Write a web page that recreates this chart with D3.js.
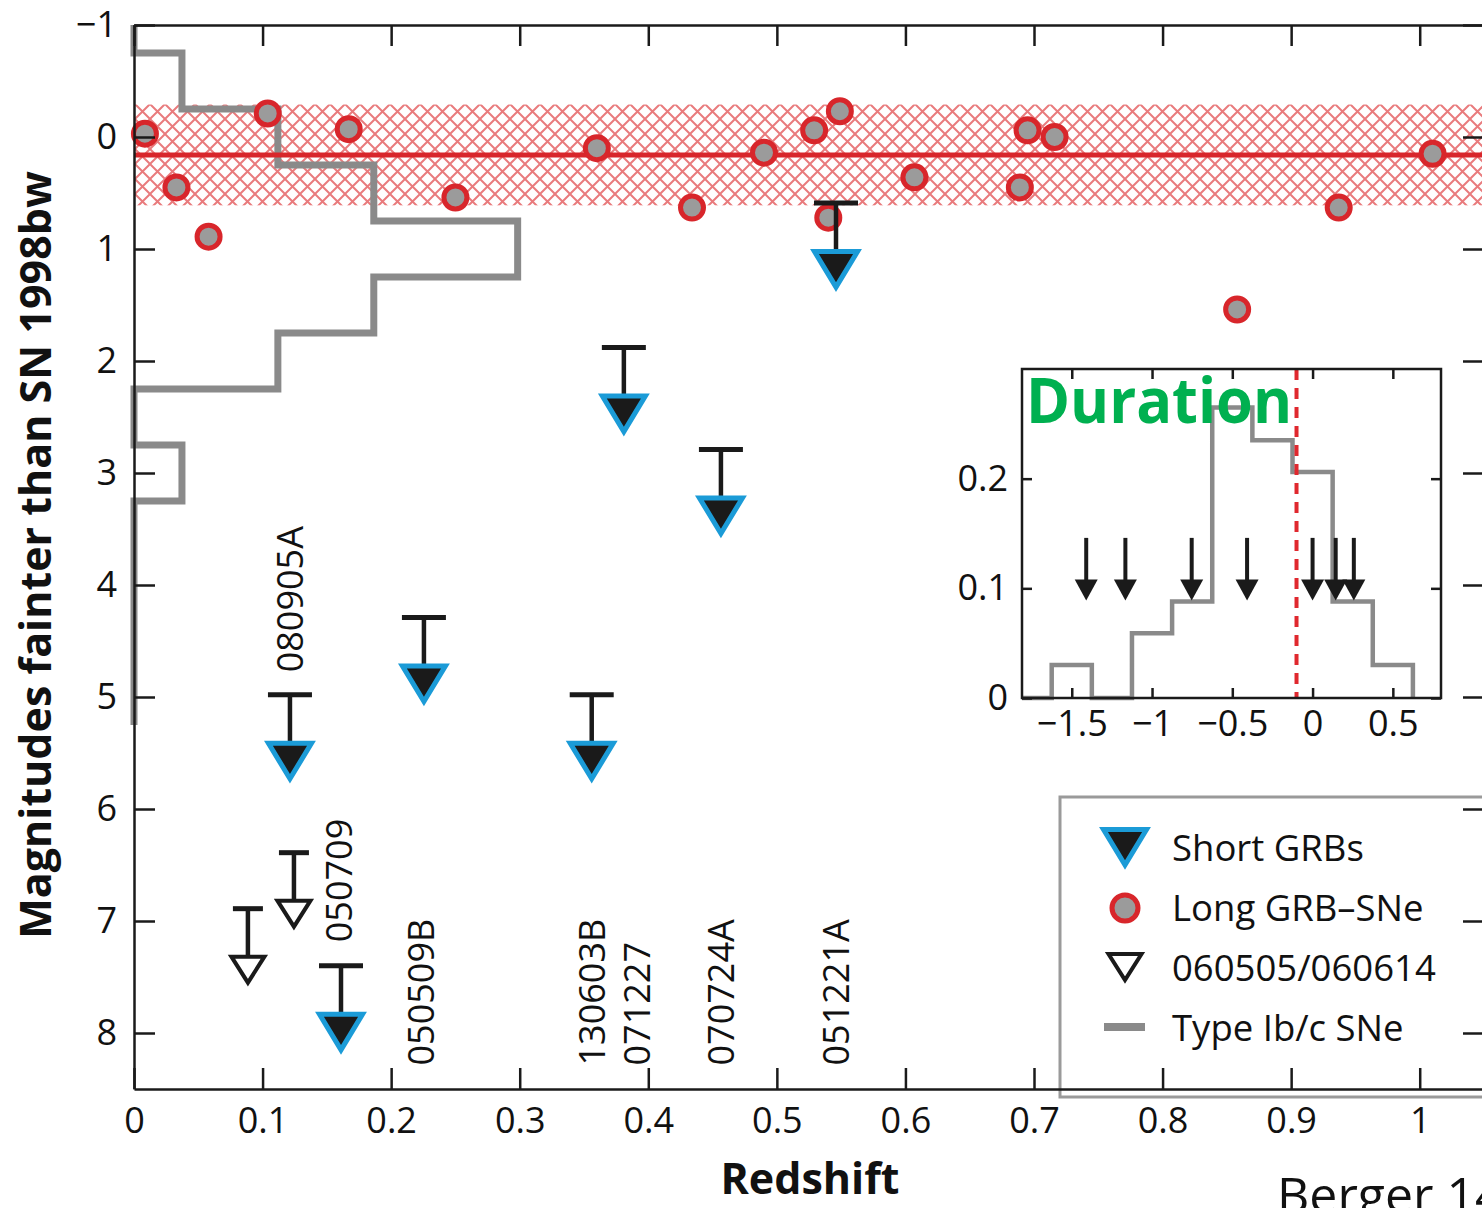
<!DOCTYPE html>
<html><head><meta charset="utf-8">
<script src="https://cdn.jsdelivr.net/npm/d3@7"></script>
<style>body{margin:0;background:#fff} svg{display:block}</style>
</head><body><svg id="c" width="1482" height="1208"></svg>
<script>
// ---------- data ----------
const longZ   = [0.0085,0.033,0.058,0.104,0.167,0.25,0.36,0.434,0.49,0.529,0.549,0.54,0.607,0.689,0.695,0.716,0.858,0.937,1.01];
const longMag = [-0.03,0.45,0.89,-0.21,-0.07,0.54,0.10,0.63,0.14,-0.06,-0.23,0.72,0.36,0.45,-0.06,0.0,1.54,0.63,0.15];

const shortNames = ["080905A","050509B","130603B","071227","070724A","051221A","050709"];
const shortZ     = [0.1213,0.2255,0.356,0.381,0.4565,0.546,0.161];
const shortMag   = [4.98,4.29,4.98,1.88,2.79,0.59,7.40];
const labelZ     = [0.1213,0.2235,0.356,0.391,0.4565,0.546,0.1592];
const labelMag   = [4.78,8.29,8.29,8.29,8.29,8.29,7.19];

const openZ   = [0.0886,0.1244];
const openMag = [6.89,6.39];

const bandCenter = 0.16, bandHalf = 0.45;

const snEdges  = [-1.25,-0.75,-0.25,0.25,0.75,1.25,1.75,2.25,2.75,3.25,5.25];
const snCounts = [0,1,3,5,8,5,3,0,1,0];
const snUnit   = 0.0373;   // redshift units per SN in the side histogram

const xTicks = [0,0.1,0.2,0.3,0.4,0.5,0.6,0.7,0.8,0.9,1];
const yTicks = [-1,0,1,2,3,4,5,6,7,8];

// inset: duration distribution
const inEdges = [-1.625,-1.375,-1.125,-0.875,-0.625,-0.375,-0.125,0.125,0.375,0.625];
const inFrac  = [0.03,0,0.059,0.088,0.265,0.235,0.206,0.088,0.03];
const inArrowX = [-1.41,-1.166,-0.753,-0.408,0.0,0.144,0.257];
const inArrowTop = 0.146, inArrowTip = 0.089;
const inDivide = -0.10;
const inXTicks = [-1.5,-1,-0.5,0,0.5];
const inYTicks = [0,0.1,0.2];

const legendLabels = ["Short GRBs","Long GRB\u2013SNe","060505/060614","Type Ib/c SNe"];

// ---------- style ----------
const FONT = "'Open Sans', 'DejaVu Sans', sans-serif";
const RED = "#d8262b", HATCH = "#e97b7d", GRAY = "#8a8a8a", FILLG = "#9b9b9b", BLUE = "#1b9bd7";

const svg = d3.select("#c");
const x = d3.scaleLinear().domain([0,1.05]).range([134,1484]);
const y = d3.scaleLinear().domain([-1,8.5]).range([25,1089]);
const fmt = v => (v<0 ? "\u2212" : "") + Math.abs(v);

const defs = svg.append("defs");
const pat = defs.append("pattern").attr("id","hatch").attr("width",15).attr("height",15)
  .attr("patternUnits","userSpaceOnUse").attr("y",104);
pat.append("path").attr("d","M-1,1 l2,-2 M0,15 l15,-15 M14,16 l2,-2 M-1,14 l2,2 M0,0 l15,15 M14,-1 l2,2")
  .attr("stroke",HATCH).attr("stroke-width",2).attr("fill","none");
defs.append("clipPath").attr("id","plot").append("rect")
  .attr("x",120).attr("y",y(-1)).attr("width",1400).attr("height",y(8.5)-y(-1));

const plot = svg.append("g").attr("clip-path","url(#plot)");

// hatched band
plot.append("rect").attr("x",x(0)).attr("width",x(1.05)-x(0))
  .attr("y",y(bandCenter-bandHalf)).attr("height",y(bandCenter+bandHalf)-y(bandCenter-bandHalf))
  .attr("fill","url(#hatch)");

// side histogram of Type Ib/c SNe
const snPts = [];
snCounts.forEach((c,i)=>{ snPts.push([c*snUnit, snEdges[i]], [c*snUnit, snEdges[i+1]]); });
plot.append("path").attr("d", d3.line().x(d=>x(d[0])).y(d=>y(d[1]))(snPts))
  .attr("fill","none").attr("stroke",GRAY).attr("stroke-width",7).attr("stroke-linejoin","miter");

// mean line
plot.append("line").attr("x1",x(0)).attr("x2",x(1.05)).attr("y1",y(bandCenter)).attr("y2",y(bandCenter))
  .attr("stroke",RED).attr("stroke-width",5);

// long GRB-SNe
plot.selectAll("circle.l").data(longZ).join("circle").attr("class","l")
  .attr("cx",d=>x(d)).attr("cy",(d,i)=>y(longMag[i])).attr("r",11.5)
  .attr("fill",FILLG).attr("stroke",RED).attr("stroke-width",5);

// short-GRB limit glyphs
function shortGlyph(g, withBar){
  if (withBar) {
    g.append("line").attr("x1",-22).attr("x2",22).attr("y1",0).attr("y2",0).attr("stroke","#1a1a1a").attr("stroke-width",5);
    g.append("line").attr("x1",0).attr("x2",0).attr("y1",0).attr("y2",60).attr("stroke","#1a1a1a").attr("stroke-width",4.5);
  }
  g.append("path").attr("d","M-21.5,48.5 L21.5,48.5 L0,84 Z").attr("fill","#1a1a1a")
    .attr("stroke",BLUE).attr("stroke-width",5).attr("stroke-linejoin","miter");
}
function openGlyph(g, withBar){
  if (withBar) {
    g.append("line").attr("x1",-15).attr("x2",15).attr("y1",0).attr("y2",0).attr("stroke","#1a1a1a").attr("stroke-width",5);
    g.append("line").attr("x1",0).attr("x2",0).attr("y1",0).attr("y2",48).attr("stroke","#1a1a1a").attr("stroke-width",4.5);
  }
  g.append("path").attr("d","M-16.5,48 L16.5,48 L0,74 Z").attr("fill","#fff")
    .attr("stroke","#1a1a1a").attr("stroke-width",4).attr("stroke-linejoin","miter");
}
shortZ.forEach((z,i)=>{ shortGlyph(svg.append("g").attr("transform",`translate(${x(z)},${y(shortMag[i])})`), true); });
openZ.forEach((z,i)=>{ openGlyph(svg.append("g").attr("transform",`translate(${x(z)},${y(openMag[i])})`), true); });

// rotated labels
shortNames.forEach((n,i)=>{
  svg.append("text").attr("transform",`translate(${x(labelZ[i])},${y(labelMag[i])}) rotate(-90)`)
    .attr("dy","0.36em").attr("font-family",FONT).attr("font-size",36).attr("fill","#111").text(n);
});

// legend
const lg = svg.append("g");
lg.append("rect").attr("x",1060).attr("y",797).attr("width",440).attr("height",300)
  .attr("fill","#fff").attr("stroke","#9a9a9a").attr("stroke-width",3);
const rows = [848,908,968,1028];
shortGlyph(lg.append("g").attr("transform",`translate(1125,${rows[0]-67})`), false);
lg.append("circle").attr("cx",1125).attr("cy",rows[1]).attr("r",13).attr("fill",FILLG).attr("stroke",RED).attr("stroke-width",5);
openGlyph(lg.append("g").attr("transform",`translate(1125,${rows[2]-62})`), false);
lg.append("line").attr("x1",1104).attr("x2",1145).attr("y1",rows[3]-1).attr("y2",rows[3]-1).attr("stroke",GRAY).attr("stroke-width",8);
legendLabels.forEach((t,i)=>{
  lg.append("text").attr("x",1172).attr("y",rows[i]).attr("dy","0.36em")
    .attr("font-family",FONT).attr("font-size",36.5).attr("fill","#111").text(t);
});

// axes
function styleAxis(g){
  g.selectAll("path.domain").attr("stroke","#1a1a1a").attr("stroke-width",2.5);
  g.selectAll(".tick line").attr("stroke","#1a1a1a").attr("stroke-width",2.5);
  g.selectAll("text").attr("font-family",FONT).attr("font-size",36).attr("fill","#111");
}
svg.append("g").attr("transform",`translate(0,${y(8.5)})`)
  .call(d3.axisBottom(x).tickValues(xTicks).tickFormat(fmt).tickSizeInner(-21).tickSizeOuter(0).tickPadding(18))
  .call(styleAxis);
svg.append("g").attr("transform",`translate(0,${y(-1)})`)
  .call(d3.axisTop(x).tickValues(xTicks).tickFormat("").tickSizeInner(-21).tickSizeOuter(0))
  .call(styleAxis);
svg.append("g").attr("transform",`translate(${x(0)},0)`)
  .call(d3.axisLeft(y).tickValues(yTicks).tickFormat(fmt).tickSizeInner(-21).tickSizeOuter(0).tickPadding(17))
  .call(styleAxis);
svg.append("g").attr("transform",`translate(${x(1.05)},0)`)
  .call(d3.axisRight(y).tickValues(yTicks).tickFormat("").tickSizeInner(-21).tickSizeOuter(0))
  .call(styleAxis);

// axis titles
svg.append("text").attr("x",810).attr("y",1194).attr("text-anchor","middle")
  .attr("font-family",FONT).attr("font-weight","bold").attr("font-size",43).attr("fill","#111").text("Redshift");
svg.append("text").attr("transform","translate(51,555) rotate(-90)").attr("text-anchor","middle")
  .attr("font-family",FONT).attr("font-weight","bold").attr("font-size",43).attr("fill","#111")
  .text("Magnitudes fainter than SN 1998bw");

// ---------- inset ----------
const ix = d3.scaleLinear().domain([-1.81,0.80]).range([1022,1441]);
const iy = d3.scaleLinear().domain([0,0.30]).range([698,369]);
const ins = svg.append("g");
ins.append("rect").attr("x",ix(-1.81)).attr("y",iy(0.30)).attr("width",ix(0.80)-ix(-1.81)).attr("height",iy(0)-iy(0.30))
  .attr("fill","#fff");
const inPts = [[-1.81,0],[inEdges[0],0]];
inFrac.forEach((f,i)=>{ inPts.push([inEdges[i],f],[inEdges[i+1],f]); });
inPts.push([inEdges[inEdges.length-1],0]);
ins.append("path").attr("d", d3.line().x(d=>ix(d[0])).y(d=>iy(d[1]))(inPts))
  .attr("fill","none").attr("stroke",GRAY).attr("stroke-width",4.5);
ins.append("line").attr("x1",ix(inDivide)).attr("x2",ix(inDivide)).attr("y1",iy(0.30)).attr("y2",iy(0))
  .attr("stroke","#e0282e").attr("stroke-width",4).attr("stroke-dasharray","11,8");
inArrowX.forEach(v=>{
  const cx = ix(v), t = iy(inArrowTop), b = iy(inArrowTip);
  ins.append("line").attr("x1",cx).attr("x2",cx).attr("y1",t).attr("y2",b-12).attr("stroke","#1a1a1a").attr("stroke-width",4);
  ins.append("path").attr("d",`M${cx-11.5},${b-21} L${cx+11.5},${b-21} L${cx},${b} Z`).attr("fill","#1a1a1a");
});
function styleIn(g){
  g.selectAll("path.domain").remove();
  g.selectAll(".tick line").attr("stroke","#1a1a1a").attr("stroke-width",2.5);
  g.selectAll("text").attr("font-family",FONT).attr("font-size",36).attr("fill","#111");
}
ins.append("g").attr("transform",`translate(0,${iy(0)})`)
  .call(d3.axisBottom(ix).tickValues(inXTicks).tickFormat(fmt).tickSizeInner(-10).tickSizeOuter(0).tickPadding(12)).call(styleIn);
ins.append("g").attr("transform",`translate(0,${iy(0.30)})`)
  .call(d3.axisTop(ix).tickValues(inXTicks).tickFormat("").tickSizeInner(-10).tickSizeOuter(0)).call(styleIn);
ins.append("g").attr("transform",`translate(${ix(-1.81)},0)`)
  .call(d3.axisLeft(iy).tickValues(inYTicks).tickFormat(d=>d===0?"0":d).tickSizeInner(-10).tickSizeOuter(0).tickPadding(14)).call(styleIn);
ins.append("g").attr("transform",`translate(${ix(0.80)},0)`)
  .call(d3.axisRight(iy).tickValues(inYTicks).tickFormat("").tickSizeInner(-10).tickSizeOuter(0)).call(styleIn);
ins.append("rect").attr("x",ix(-1.81)).attr("y",iy(0.30)).attr("width",ix(0.80)-ix(-1.81)).attr("height",iy(0)-iy(0.30))
  .attr("fill","none").attr("stroke","#1a1a1a").attr("stroke-width",2.5);
ins.append("text").attr("x",1026).attr("y",423).attr("font-family",FONT).attr("font-weight","bold")
  .attr("font-size",62).attr("fill","#00b050").attr("textLength",266).attr("lengthAdjust","spacingAndGlyphs").text("Duration");

// credit (cut off at the bottom-right edge, as in the reference)
svg.append("text").attr("x",1277).attr("y",1213).attr("font-family",FONT).attr("font-size",50).attr("fill","#111").text("Berger 14");
</script></body></html>
